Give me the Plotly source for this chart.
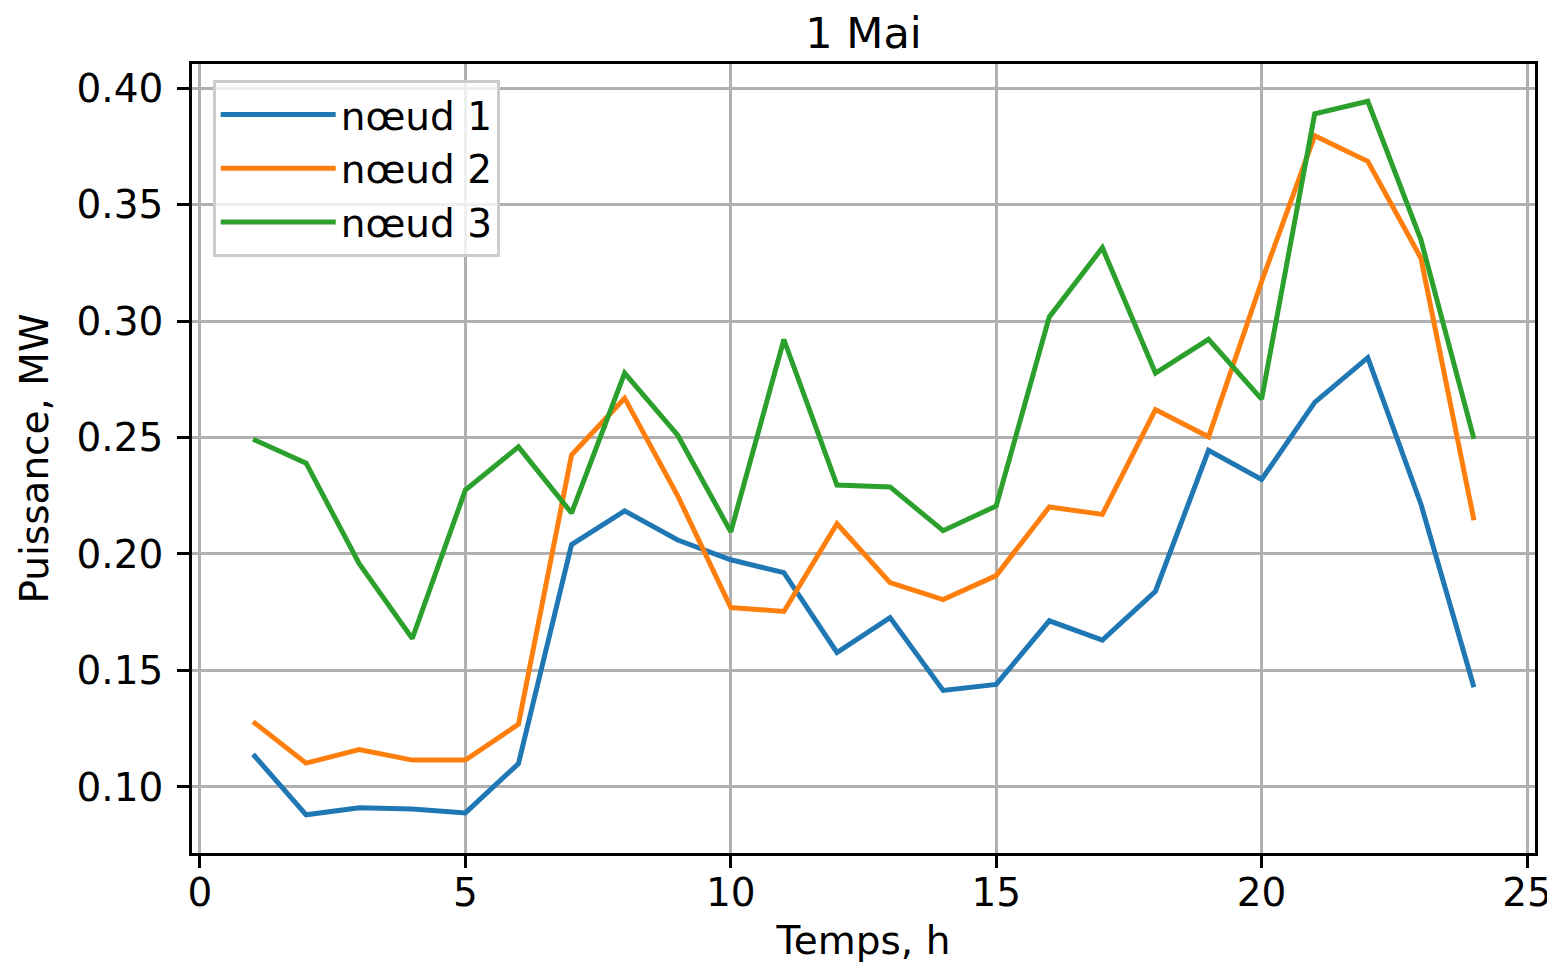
import plotly.graph_objects as go

hours = list(range(1, 25))
noeud1 = [0.114, 0.088, 0.091, 0.0905, 0.0888, 0.110, 0.204, 0.2185, 0.206, 0.1975,
          0.192, 0.1577, 0.1727, 0.1414, 0.144, 0.1713, 0.163, 0.184, 0.2445, 0.232,
          0.2651, 0.2843, 0.2215, 0.1428]
noeud2 = [0.128, 0.1102, 0.116, 0.1115, 0.1115, 0.1269, 0.2425, 0.2669, 0.225, 0.177,
          0.1753, 0.213, 0.1877, 0.1804, 0.1907, 0.2202, 0.217, 0.262, 0.2503, 0.317,
          0.3796, 0.3686, 0.3271, 0.2145]
noeud3 = [0.2493, 0.239, 0.1958, 0.1637, 0.2275, 0.246, 0.2176, 0.2777, 0.251, 0.2095,
          0.2921, 0.2296, 0.2288, 0.21, 0.2206, 0.3018, 0.3315, 0.2777, 0.2922, 0.2665,
          0.389, 0.3944, 0.335, 0.2494]
series_names = ["nœud 1", "nœud 2", "nœud 3"]
series_colors = ["#1f77b4", "#ff7f0e", "#2ca02c"]
x_ticks = [0, 5, 10, 15, 20, 25]
y_ticks = [0.10, 0.15, 0.20, 0.25, 0.30, 0.35, 0.40]

FONT = "DejaVu Sans"
FS = 39
fig = go.Figure()
for name, vals, col in zip(series_names, [noeud1, noeud2, noeud3], series_colors):
    fig.add_trace(go.Scatter(x=hours, y=vals, mode="lines", name=name,
                             line=dict(color=col, width=5)))

# page body has an 8px margin; compensate so the plot area lands on target pixels
OFF = 8
W, H = 1555 - OFF, 964 - OFF
PL, PR, PT, PB = 192, 1535, 64, 853
L, T = PL - OFF, PT - OFF
R = (W + OFF) - PR
B = (H + OFF) - PB
pw, ph = W - L - R, H - T - B

axis_common = dict(
    showline=True, linecolor="black", linewidth=2.7, mirror=True,
    ticks="outside", ticklen=12, tickwidth=2.7, tickcolor="black",
    showgrid=True, gridcolor="#b0b0b0", gridwidth=2.7, zeroline=False,
    tickfont=dict(family=FONT, size=FS, color="black"),
    ticklabeloverflow="allow",
)
fig.update_layout(
    width=W, height=H,
    margin=dict(l=L, r=R, t=T, b=B, autoexpand=False),
    paper_bgcolor="white", plot_bgcolor="white",
    font=dict(family=FONT, color="black"),
    title=dict(text="1 Mai", x=0.5, xref="paper", y=1 - (33 - OFF) / H, yanchor="middle",
               font=dict(family=FONT, size=43, color="black")),
    xaxis=dict(range=[-0.15, 25.15], tickvals=x_ticks, ticklabelstandoff=-9,
               title=dict(text="Temps, h", font=dict(family=FONT, size=FS), standoff=14),
               **axis_common),
    yaxis=dict(range=[0.0716, 0.4104], tickvals=y_ticks, tickformat=".2f", ticklabelstandoff=6,
               title=dict(text="Puissance, MW", font=dict(family=FONT, size=FS), standoff=16),
               **axis_common),
    legend=dict(x=(213 - PL) / pw, y=1 - (80 - PT) / ph,
                xanchor="left", yanchor="top", itemwidth=115,
                bgcolor="rgba(255,255,255,0.8)", bordercolor="#cccccc", borderwidth=2.7,
                font=dict(family=FONT, size=FS, color="black")),
)
fig.write_html("out.html")
